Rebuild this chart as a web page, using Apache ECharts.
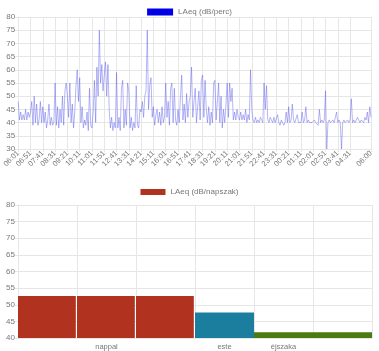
<!DOCTYPE html>
<html>
<head>
<meta charset="utf-8">
<script src="https://cdn.jsdelivr.net/npm/echarts@6/dist/echarts.min.js"></script>
<style>
  html, body { margin: 0; padding: 0; background: #fff; }
  #chart { width: 379px; height: 351px; }
</style>
</head>
<body>
<div id="chart"></div>
<script>
// minute-level noise log, sampled every 5 minutes from 06:01 to 06:00 next day
const timeLabels = []
for (let k = 0; k < 288; k++) {
  const m = (6 * 60 + 1 + 5 * k) % 1440
  const h = Math.floor(m / 60)
  const mm = m % 60
  timeLabels.push(String(h).padStart(2, '0') + ':' + String(mm).padStart(2, '0'))
}
timeLabels[287] = '06:00'

const laeqPerc = [
  48, 41, 44, 41, 43, 41, 45, 41, 44, 42,
  44, 48, 39, 50, 40, 47, 39, 41, 48, 40,
  46, 40, 44, 38, 41, 47, 39, 42, 39, 40,
  55, 39, 46, 38, 45, 40, 50, 39, 52, 55,
  50, 42, 55, 40, 47, 38, 44, 54, 60, 48,
  57, 40, 46, 38, 41, 39, 44, 37, 53, 39,
  38, 44, 56, 40, 61, 50, 75, 55, 62, 52,
  58, 63, 50, 62, 45, 38, 42, 37, 40, 38,
  59, 38, 42, 37, 53, 56, 38, 45, 39, 55,
  52, 38, 42, 37, 40, 38, 54, 39, 38, 45,
  44, 48, 42, 50, 52, 75, 45, 54, 57, 42,
  46, 39, 43, 45, 40, 44, 39, 46, 40, 42,
  55, 42, 48, 39, 53, 55, 40, 53, 41, 39,
  45, 40, 50, 58, 41, 47, 40, 51, 42, 48,
  50, 61, 42, 48, 53, 40, 46, 52, 41, 56,
  58, 42, 56, 45, 40, 46, 39, 44, 40, 55,
  56, 41, 48, 55, 40, 50, 38, 45, 40, 47,
  55, 42, 55, 48, 53, 41, 44, 41, 45, 42,
  41, 44, 41, 43, 41, 45, 40, 43, 41, 60,
  45, 41, 40, 42, 40, 41, 40, 42, 41, 40,
  55, 45, 54, 41, 40, 42, 41, 40, 42, 40,
  40, 43, 40, 39, 41, 40, 39, 40, 44, 40,
  46, 40, 41, 47, 41, 40, 40, 43, 40, 40,
  40, 44, 40, 41, 46, 40, 41, 40, 40, 40,
  40, 41, 40, 40, 39, 45, 40, 41, 40, 41,
  52, 30, 40, 41, 40, 40, 41, 40, 40, 44,
  40, 41, 40, 30, 40, 41, 40, 40, 41, 40,
  41, 49, 40, 41, 40, 41, 42, 41, 40, 41,
  41, 40, 42, 41, 44, 40, 46, 42
]

// day parts on a 4-hour grid: nappal 06-18, este 18-22, éjszaka 22-06
const napszakLabels = ['', 'nappal', '', 'este', 'éjszaka', '']
const nappalValues = [52.6, 52.6, 52.6, '-', '-', '-']
const esteEjszakaValues = ['-', '-', '-', 47.7, 41.7, 41.7]
const esteEjszakaColors = ['', '', '', '#1b7e9f', '#4a7b12', '#4a7b12']

const showTick = (i) => (i % 10 === 0 && i <= 270) || i === timeLabels.length - 1

const gridColor = '#e6e6e6'
const labelColor = '#777'

const chart = echarts.init(document.getElementById('chart'))

chart.setOption({
  animation: false,
  textStyle: { fontFamily: 'Liberation Sans, Arial, sans-serif' },
  legend: [
    {
      top: 3,
      left: 'center',
      itemWidth: 26,
      itemHeight: 7,
      itemGap: 4,
      textStyle: { fontSize: 8, color: labelColor },
      data: [{ name: 'LAeq (dB/perc)', icon: 'rect', itemStyle: { color: '#0000e6' } }]
    },
    {
      top: 183,
      left: 'center',
      itemWidth: 25,
      itemHeight: 6,
      itemGap: 4,
      textStyle: { fontSize: 8, color: labelColor },
      data: [{ name: 'LAeq (dB/napszak)', icon: 'rect', itemStyle: { color: '#b0321f' } }]
    }
  ],
  grid: [
    { left: 18, right: 8, top: 17, height: 132 },
    { left: 18, right: 7, top: 205, height: 134 }
  ],
  xAxis: [
    {
      gridIndex: 0,
      type: 'category',
      data: timeLabels,
      boundaryGap: false,
      axisLine: { lineStyle: { color: gridColor } },
      axisTick: { interval: showTick, length: 3, lineStyle: { color: gridColor } },
      axisLabel: { interval: showTick, rotate: 45, fontSize: 7.5, color: labelColor, margin: 3 },
      splitLine: { show: true, interval: showTick, lineStyle: { color: gridColor } }
    },
    {
      gridIndex: 1,
      type: 'category',
      data: napszakLabels,
      axisLine: { lineStyle: { color: gridColor } },
      axisTick: { show: false },
      axisLabel: { interval: 0, fontSize: 7.5, color: labelColor, margin: 5 },
      splitLine: { show: true, interval: 0, lineStyle: { color: gridColor } }
    }
  ],
  yAxis: [
    {
      gridIndex: 0,
      type: 'value',
      min: 30,
      max: 80,
      interval: 5,
      axisLine: { show: true, lineStyle: { color: gridColor } },
      axisTick: { show: true, length: 3, lineStyle: { color: gridColor } },
      axisLabel: { fontSize: 8, color: labelColor, margin: 3 },
      splitLine: { lineStyle: { color: gridColor } }
    },
    {
      gridIndex: 1,
      type: 'value',
      min: 40,
      max: 80,
      interval: 5,
      axisLine: { show: true, lineStyle: { color: gridColor } },
      axisTick: { show: true, length: 3, lineStyle: { color: gridColor } },
      axisLabel: { fontSize: 8, color: labelColor, margin: 3 },
      splitLine: { lineStyle: { color: gridColor } }
    }
  ],
  series: [
    {
      name: 'LAeq (dB/perc)',
      type: 'line',
      xAxisIndex: 0,
      yAxisIndex: 0,
      data: laeqPerc,
      showSymbol: false,
      itemStyle: { color: '#0000e6' },
      lineStyle: { color: 'rgba(80, 80, 235, 0.42)', width: 1 }
    },
    {
      name: 'LAeq (dB/napszak)',
      type: 'bar',
      xAxisIndex: 1,
      yAxisIndex: 1,
      barWidth: '98%',
      barGap: '-100%',
      itemStyle: { color: '#b0321f' },
      data: nappalValues
    },
    {
      name: 'este-ejszaka',
      type: 'bar',
      xAxisIndex: 1,
      yAxisIndex: 1,
      barWidth: '100%',
      barGap: '-100%',
      data: esteEjszakaValues.map((v, i) => ({
        value: v,
        itemStyle: { color: esteEjszakaColors[i] || '#000' }
      }))
    }
  ]
})

window.addEventListener('resize', () => chart.resize())
</script>
</body>
</html>
